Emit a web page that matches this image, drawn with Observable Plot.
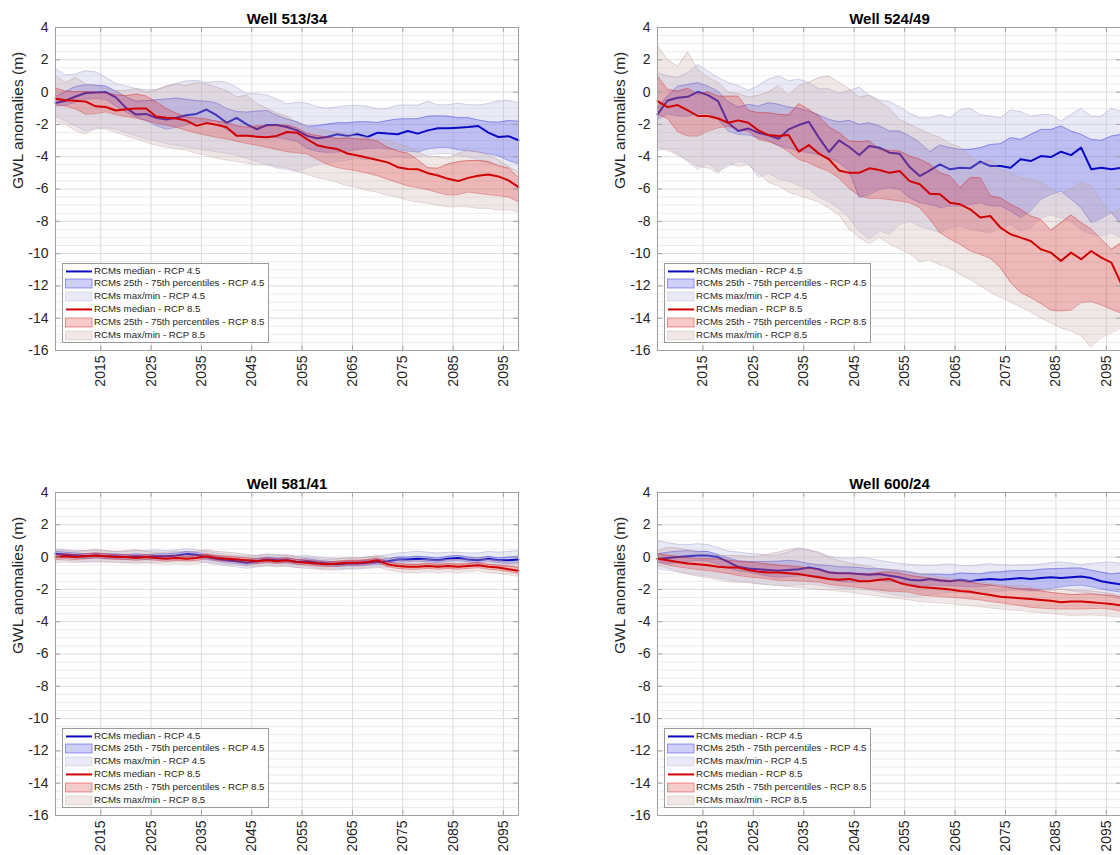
<!DOCTYPE html>
<html>
<head>
<meta charset="utf-8">
<script src="https://cdn.jsdelivr.net/npm/d3@7"></script>
<script src="https://cdn.jsdelivr.net/npm/@observablehq/plot@0.6"></script>
<style>
html, body { margin: 0; padding: 0; background: #fff; overflow: hidden; }
#root { position: relative; width: 1120px; height: 855px; overflow: hidden; font-family: "Liberation Sans", Arial, Helvetica, sans-serif; }
.panel { position: absolute; }
.legend { position: absolute; width: 205px; height: 78px; background: #fff; border: 1px solid #9a9a9a; }
.lrow { position: absolute; left: 0; height: 12.9px; width: 100%; }
.lrow svg { position: absolute; left: 1px; top: 0; }
.lrow span { position: absolute; left: 31px; top: 0; font-size: 9.7px; line-height: 12.9px; color: #262626; white-space: nowrap; }
</style>
</head>
<body>
<div id="root"></div>
<script>
// ---------------- DATA ----------------
const years = [2006,2008,2010,2012,2014,2016,2018,2020,2022,2024,2026,2028,2030,2032,2034,2036,2038,2040,2042,2044,2046,2048,2050,2052,2054,2056,2058,2060,2062,2064,2066,2068,2070,2072,2074,2076,2078,2080,2082,2084,2086,2088,2090,2092,2094,2096,2098];
const xTicks = [2015,2025,2035,2045,2055,2065,2075,2085,2095];
const yTicks = [-16,-14,-12,-10,-8,-6,-4,-2,0,2,4];
const wellTitles = ["Well 513/34","Well 524/49","Well 581/41","Well 600/24"];
const yLabel = "GWL anomalies (m)";
const legendLabels = ["RCMs median - RCP 4.5","RCMs 25th - 75th percentiles - RCP 4.5","RCMs max/min - RCP 4.5","RCMs median - RCP 8.5","RCMs 25th - 75th percentiles - RCP 8.5","RCMs max/min - RCP 8.5"];

// Well 513/34
const w1_b_med = [-0.67,-0.53,-0.27,-0.06,-0.02,0,-0.33,-0.98,-1.39,-1.35,-1.59,-1.69,-1.59,-1.43,-1.35,-1.08,-1.43,-1.9,-1.6,-2.0,-2.3,-2.04,-2.04,-2.16,-2.37,-2.71,-2.86,-2.78,-2.61,-2.71,-2.61,-2.78,-2.51,-2.57,-2.61,-2.41,-2.57,-2.37,-2.24,-2.24,-2.2,-2.16,-2.1,-2.51,-2.78,-2.73,-2.98];
const w1_b_p75 = [-0.27,0.04,0.35,0.45,0.43,0.37,0.06,-0.29,-0.57,-0.53,-0.47,-0.43,-0.37,-0.45,-0.53,-0.57,-0.67,-1.02,-1.2,-1.24,-1.18,-1.14,-1.43,-1.67,-1.84,-2.12,-2.08,-1.98,-1.9,-1.9,-1.84,-1.84,-1.88,-1.76,-1.67,-1.65,-1.65,-1.49,-1.47,-1.49,-1.59,-1.59,-1.73,-1.84,-1.86,-1.76,-1.8];
const w1_b_p25 = [-0.88,-0.8,-0.63,-0.43,-0.39,-0.45,-0.86,-1.24,-1.55,-1.76,-2.08,-2.29,-2.18,-2.02,-1.88,-1.8,-1.8,-2.35,-2.55,-2.63,-2.71,-2.8,-2.82,-2.9,-3.06,-3.49,-3.67,-3.73,-3.71,-3.65,-3.55,-3.49,-3.45,-3.51,-3.57,-3.65,-3.71,-3.51,-3.43,-3.43,-3.57,-3.63,-3.71,-3.82,-3.94,-4.24,-4.45];
const w1_b_max = [1.45,1.06,1.12,1.33,1.24,0.92,0.53,0.37,0.22,0.14,0.16,0.31,0.53,0.69,0.73,0.59,0.67,0.61,0.29,-0.1,-0.1,-0.18,-0.43,-0.73,-0.63,-0.69,-0.9,-1.0,-0.92,-0.84,-0.82,-0.88,-1.04,-1.02,-0.82,-0.8,-0.82,-0.57,-0.8,-0.78,-0.69,-0.78,-0.8,-0.71,-0.55,-0.53,-0.67];
const w1_b_min = [-1.5,-1.8,-2.1,-2.4,-2.3,-2.2,-2.3,-2.5,-2.7,-2.9,-3.0,-3.2,-3.3,-3.4,-3.5,-3.6,-3.7,-3.8,-3.9,-4.1,-4.3,-4.5,-4.7,-4.8,-4.9,-4.7,-4.5,-4.4,-4.3,-4.2,-4.1,-4.2,-4.0,-4.1,-4.0,-4.1,-4.0,-3.9,-3.8,-3.8,-3.9,-4.0,-4.2,-4.4,-4.5,-4.7,-4.9];
const w1_r_med = [-0.41,-0.51,-0.53,-0.59,-0.88,-0.92,-1.14,-1.06,-1.02,-1.02,-1.51,-1.59,-1.63,-1.76,-2.08,-1.92,-2.02,-2.18,-2.71,-2.71,-2.76,-2.8,-2.71,-2.47,-2.51,-2.92,-3.29,-3.43,-3.53,-3.8,-3.92,-4.06,-4.2,-4.35,-4.65,-4.76,-4.78,-5.02,-5.16,-5.37,-5.51,-5.31,-5.18,-5.1,-5.22,-5.47,-5.88];
const w1_r_p75 = [0.24,0.06,0.02,0.04,0,-0.04,-0.16,-0.22,-0.12,-0.24,-0.61,-1.02,-1.31,-1.55,-1.61,-1.67,-1.8,-1.88,-2.08,-2.18,-2.1,-2.1,-2.06,-2.04,-2.22,-2.57,-2.69,-2.78,-2.88,-2.84,-2.9,-2.92,-3.04,-3.41,-3.65,-3.78,-4.2,-4.69,-4.71,-4.45,-4.31,-4.24,-4.24,-4.29,-4.57,-4.71,-5.27];
const w1_r_p25 = [-0.78,-0.86,-1.04,-1.37,-1.33,-1.22,-1.39,-1.51,-1.61,-1.76,-1.92,-2.04,-2.18,-2.37,-2.53,-2.67,-2.8,-2.9,-3.04,-3.18,-3.29,-3.41,-3.55,-3.69,-3.76,-3.82,-4.16,-4.47,-4.67,-4.78,-4.88,-5.02,-5.18,-5.39,-5.61,-5.8,-5.92,-6.04,-6.22,-6.37,-6.35,-6.18,-6.27,-6.35,-6.41,-6.49,-6.8];
const w1_r_max = [1.0,0.6,0.9,0.5,0.4,0.2,0.1,0.1,0.2,0.0,0.1,0.4,0.5,0.4,0.6,0.5,0.3,0.1,-0.3,-0.2,-0.7,-1.0,-1.3,-1.5,-1.9,-2.1,-2.3,-2.4,-2.5,-2.6,-2.7,-2.8,-2.9,-3.0,-3.2,-3.4,-3.7,-4.0,-4.0,-4.1,-3.8,-3.6,-3.7,-3.9,-4.2,-4.6,-5.0];
const w1_r_min = [-1.8,-2.0,-2.4,-2.6,-2.2,-2.3,-2.5,-2.7,-2.9,-3.1,-3.3,-3.4,-3.5,-3.6,-3.8,-3.9,-4.1,-4.2,-4.3,-4.4,-4.5,-4.5,-4.6,-4.7,-4.9,-5.1,-5.3,-5.4,-5.6,-5.8,-5.9,-6.1,-6.2,-6.4,-6.5,-6.7,-6.8,-6.9,-7.0,-7.1,-7.1,-7.1,-7.2,-7.2,-7.3,-7.3,-7.4];

// Well 524/49
const w2_b_med = [-1.38,-0.52,-0.35,-0.29,0.02,-0.19,-0.56,-1.9,-2.41,-2.25,-2.52,-2.68,-2.89,-2.31,-2.04,-1.84,-2.82,-3.71,-2.99,-3.4,-3.9,-3.34,-3.44,-3.75,-3.81,-4.64,-5.2,-4.85,-4.47,-4.78,-4.68,-4.72,-4.31,-4.58,-4.58,-4.68,-4.16,-4.27,-3.96,-4.02,-3.69,-3.9,-3.44,-4.78,-4.68,-4.78,-4.68];
const w2_b_p75 = [-0.97,-0.25,0.37,0.47,0.58,0.37,0.06,-0.6,-0.93,-0.76,-0.87,-0.66,-0.76,-0.93,-1.01,-1.18,-1.42,-1.69,-1.84,-1.75,-2.0,-1.9,-2.1,-2.41,-2.41,-2.72,-3.13,-3.69,-3.28,-3.44,-3.55,-3.55,-3.44,-3.24,-3.2,-2.82,-2.93,-2.62,-2.31,-2.31,-2.1,-2.41,-2.62,-2.93,-2.99,-2.72,-2.62];
const w2_b_p25 = [-1.69,-1.34,-1.48,-1.48,-1.34,-1.28,-1.69,-2.41,-2.62,-2.66,-2.82,-2.99,-3.34,-3.44,-3.65,-3.75,-3.86,-4.06,-4.37,-4.89,-6.54,-6.33,-6.02,-5.92,-6.02,-6.54,-6.85,-6.95,-7.15,-7.05,-7.05,-6.95,-6.85,-7.05,-7.05,-7.36,-7.77,-7.36,-6.64,-6.33,-6.12,-6.64,-7.15,-8.08,-7.81,-7.46,-8.19];
const w2_b_max = [1.2,1.0,0.9,1.2,1.7,1.3,0.9,0.6,0.4,0.1,0.4,0.8,1.0,0.7,0.8,0.6,0.2,0.2,-0.1,0.1,0.3,-0.2,-0.5,-0.6,-0.9,-1.3,-1.6,-1.6,-1.4,-1.6,-1.1,-1.0,-1.4,-1.5,-1.6,-1.1,-1.2,-1.5,-1.4,-1.4,-1.8,-1.4,-1.0,-1.5,-1.5,-1.0,-1.2];
const w2_b_min = [-3.6,-3.5,-3.8,-4.3,-4.8,-4.4,-4.9,-4.6,-4.3,-4.4,-5.3,-5.0,-5.4,-5.5,-5.8,-6.0,-6.5,-6.8,-7.2,-7.8,-8.6,-9.1,-8.6,-8.8,-8.2,-8.0,-8.3,-8.5,-8.7,-8.4,-8.3,-8.5,-8.6,-8.7,-8.4,-8.2,-8.6,-8.4,-7.8,-7.6,-7.8,-8.0,-8.5,-8.8,-8.9,-8.7,-9.0];
const w2_r_med = [-0.56,-0.93,-0.8,-1.13,-1.48,-1.48,-1.63,-1.9,-1.75,-1.9,-2.37,-2.66,-2.72,-2.66,-3.69,-3.28,-3.81,-4.16,-4.85,-5.0,-5.0,-4.72,-4.82,-5.0,-4.89,-5.51,-5.71,-6.29,-6.33,-6.85,-6.95,-7.26,-7.77,-7.67,-8.39,-8.8,-9.01,-9.22,-9.73,-9.94,-10.45,-9.94,-10.35,-9.84,-10.25,-10.56,-11.9];
const w2_r_p75 = [0.99,0.16,0.06,0.23,-0.14,0.02,-0.25,-0.25,-0.25,-1.13,-1.28,-1.28,-1.38,-1.42,-0.72,-1.07,-1.48,-2.16,-2.52,-3.03,-3.07,-3.03,-3.55,-3.61,-3.65,-3.96,-4.16,-4.47,-4.99,-5.2,-5.92,-5.3,-5.3,-6.43,-6.54,-6.95,-7.26,-7.67,-7.88,-8.56,-8.08,-7.61,-8.08,-8.49,-9.11,-9.73,-9.32];
const w2_r_p25 = [-1.38,-1.63,-2.45,-2.72,-2.72,-2.41,-2.21,-2.12,-2.31,-2.41,-2.93,-3.07,-3.28,-3.69,-4.16,-4.37,-4.68,-4.89,-5.34,-5.96,-6.43,-6.58,-6.58,-6.66,-6.74,-6.85,-7.15,-7.88,-8.7,-9.11,-9.42,-9.84,-10.04,-10.29,-10.87,-11.79,-12.41,-12.72,-13.09,-13.5,-13.55,-13.5,-13.03,-12.97,-13.18,-13.44,-13.71];
const w2_r_max = [2.9,2.0,1.6,2.5,1.4,0.9,0.6,0.0,-0.1,-0.3,-0.2,0.0,0.4,-0.2,0.4,0.6,0.9,1.0,0.6,0.2,-0.3,-0.2,-0.6,-1.0,-1.7,-2.0,-2.3,-2.6,-2.8,-3.2,-3.4,-4.0,-4.4,-4.2,-4.8,-5.0,-5.3,-5.4,-5.6,-6.0,-6.3,-6.0,-5.6,-5.8,-6.8,-7.5,-7.2];
const w2_r_min = [-3.4,-3.6,-3.9,-4.2,-4.6,-4.7,-5.0,-4.4,-4.6,-4.5,-5.0,-5.6,-5.8,-6.2,-6.4,-6.6,-6.8,-7.2,-7.6,-8.5,-9.0,-9.4,-9.0,-9.4,-9.7,-10.0,-10.5,-10.4,-10.7,-10.9,-11.3,-11.6,-12.0,-12.4,-12.7,-13.0,-13.3,-13.6,-14.0,-14.3,-14.6,-14.8,-15.1,-15.8,-15.2,-14.9,-14.6];

// Well 581/41
const w3_b_med = [0.2,0.15,0.1,0.05,0.1,0.05,0.05,0.0,0.05,0.0,0.05,0.05,0.1,0.2,0.15,0.0,-0.1,-0.2,-0.25,-0.35,-0.25,-0.15,-0.2,-0.2,-0.3,-0.25,-0.35,-0.4,-0.45,-0.4,-0.4,-0.35,-0.3,-0.25,-0.15,-0.15,-0.1,-0.15,-0.2,-0.1,-0.05,-0.15,-0.2,-0.1,-0.2,-0.2,-0.15];
const w3_b_p75 = [0.35,0.3,0.25,0.2,0.25,0.2,0.2,0.15,0.2,0.15,0.2,0.2,0.25,0.35,0.3,0.15,0.05,-0.05,-0.1,-0.2,-0.1,0.0,-0.05,-0.05,-0.15,-0.1,-0.2,-0.25,-0.3,-0.25,-0.25,-0.2,-0.15,-0.1,0.0,0.0,0.05,0.0,-0.05,0.05,0.1,0.0,-0.05,0.05,-0.05,0.0,0.05];
const w3_b_p25 = [0.05,0.0,-0.05,-0.1,-0.05,-0.1,-0.1,-0.15,-0.1,-0.15,-0.1,-0.1,-0.05,0.05,0.0,-0.15,-0.25,-0.35,-0.4,-0.5,-0.4,-0.3,-0.35,-0.35,-0.45,-0.4,-0.5,-0.55,-0.6,-0.55,-0.55,-0.5,-0.45,-0.4,-0.3,-0.3,-0.25,-0.3,-0.35,-0.25,-0.2,-0.3,-0.35,-0.25,-0.35,-0.4,-0.35];
const w3_b_max = [0.5,0.45,0.4,0.4,0.45,0.4,0.35,0.35,0.4,0.4,0.45,0.4,0.45,0.5,0.45,0.35,0.25,0.15,0.1,0.05,0.1,0.2,0.15,0.15,0.05,0.1,0.0,-0.05,-0.1,-0.05,-0.05,0.0,0.05,0.15,0.25,0.3,0.35,0.3,0.25,0.3,0.3,0.25,0.25,0.35,0.3,0.35,0.4];
const w3_b_min = [-0.15,-0.2,-0.25,-0.3,-0.3,-0.3,-0.3,-0.35,-0.3,-0.35,-0.3,-0.3,-0.25,-0.2,-0.25,-0.35,-0.45,-0.55,-0.6,-0.7,-0.6,-0.5,-0.55,-0.55,-0.65,-0.6,-0.7,-0.75,-0.8,-0.75,-0.75,-0.7,-0.65,-0.6,-0.5,-0.5,-0.45,-0.5,-0.55,-0.45,-0.4,-0.5,-0.55,-0.45,-0.55,-0.6,-0.55];
const w3_r_med = [0.0,0.05,0.0,0.05,0.1,0.05,0.0,0.0,-0.05,0.0,-0.05,-0.1,-0.05,-0.1,-0.05,0.05,-0.05,-0.1,-0.15,-0.2,-0.25,-0.2,-0.25,-0.2,-0.3,-0.35,-0.4,-0.45,-0.4,-0.35,-0.35,-0.3,-0.2,-0.45,-0.55,-0.6,-0.6,-0.55,-0.6,-0.55,-0.6,-0.55,-0.5,-0.6,-0.65,-0.75,-0.85];
const w3_r_p75 = [0.15,0.2,0.15,0.2,0.25,0.2,0.15,0.15,0.1,0.15,0.1,0.05,0.1,0.05,0.1,0.2,0.1,0.05,0.0,-0.05,-0.1,-0.05,-0.1,-0.05,-0.15,-0.2,-0.25,-0.3,-0.25,-0.2,-0.2,-0.15,-0.05,-0.3,-0.4,-0.45,-0.45,-0.4,-0.45,-0.4,-0.45,-0.4,-0.35,-0.45,-0.5,-0.55,-0.65];
const w3_r_p25 = [-0.15,-0.1,-0.15,-0.1,-0.05,-0.1,-0.15,-0.15,-0.2,-0.15,-0.2,-0.25,-0.2,-0.25,-0.2,-0.1,-0.2,-0.25,-0.3,-0.35,-0.4,-0.35,-0.4,-0.35,-0.45,-0.5,-0.55,-0.6,-0.55,-0.5,-0.5,-0.45,-0.35,-0.6,-0.7,-0.75,-0.75,-0.7,-0.75,-0.7,-0.75,-0.7,-0.65,-0.75,-0.8,-0.9,-1.0];
const w3_r_max = [0.4,0.4,0.35,0.4,0.45,0.4,0.35,0.4,0.45,0.35,0.3,0.3,0.35,0.3,0.35,0.45,0.35,0.3,0.25,0.15,0.1,0.15,0.1,0.1,0.0,-0.05,-0.1,-0.15,-0.1,-0.05,-0.05,0.0,0.1,-0.05,-0.15,-0.2,-0.2,-0.15,-0.2,-0.15,-0.15,-0.1,-0.05,-0.15,-0.2,-0.3,-0.35];
const w3_r_min = [-0.35,-0.3,-0.35,-0.3,-0.25,-0.3,-0.35,-0.35,-0.4,-0.35,-0.4,-0.45,-0.4,-0.45,-0.4,-0.3,-0.4,-0.45,-0.5,-0.55,-0.6,-0.55,-0.6,-0.55,-0.65,-0.7,-0.75,-0.8,-0.75,-0.7,-0.7,-0.65,-0.6,-0.8,-0.9,-0.95,-0.95,-0.9,-0.95,-0.9,-0.95,-0.9,-0.85,-0.95,-1.0,-1.1,-1.2];

// Well 600/24
const w4_b_med = [-0.1,-0.05,0.0,0.05,0.1,0.1,0.0,-0.3,-0.6,-0.7,-0.75,-0.8,-0.85,-0.8,-0.75,-0.65,-0.75,-0.95,-1.0,-1.0,-1.05,-1.1,-1.05,-1.15,-1.25,-1.4,-1.45,-1.35,-1.45,-1.5,-1.4,-1.5,-1.4,-1.35,-1.4,-1.35,-1.3,-1.35,-1.3,-1.25,-1.3,-1.25,-1.2,-1.3,-1.5,-1.6,-1.7];
const w4_b_p75 = [0.2,0.3,0.37,0.4,0.35,0.35,0.15,-0.05,-0.23,-0.27,-0.27,-0.27,-0.25,-0.2,-0.27,-0.4,-0.48,-0.52,-0.6,-0.62,-0.64,-0.72,-0.72,-0.79,-0.85,-0.93,-1.06,-1.06,-1.06,-1.1,-0.99,-1.01,-1.04,-0.93,-0.91,-0.85,-0.83,-0.83,-0.75,-0.72,-0.7,-0.68,-0.68,-0.81,-0.93,-1.04,-0.97];
const w4_b_p25 = [-0.31,-0.39,-0.35,-0.27,-0.21,-0.25,-0.43,-0.68,-0.85,-0.93,-1.06,-1.18,-1.24,-1.2,-1.16,-1.12,-1.16,-1.35,-1.51,-1.55,-1.53,-1.45,-1.45,-1.51,-1.57,-1.66,-1.74,-1.74,-1.74,-1.76,-1.8,-1.84,-1.84,-1.76,-1.72,-1.9,-1.97,-2.07,-2.01,-1.93,-1.84,-1.76,-1.74,-1.84,-1.97,-2.09,-2.17];
const w4_b_max = [1.04,0.89,0.79,0.77,0.83,0.77,0.6,0.37,0.31,0.23,0.19,0.1,0.14,0.31,0.52,0.43,0.31,0.06,-0.04,-0.08,-0.02,-0.08,-0.21,-0.31,-0.39,-0.46,-0.5,-0.52,-0.48,-0.43,-0.52,-0.54,-0.48,-0.41,-0.48,-0.5,-0.48,-0.48,-0.43,-0.35,-0.31,-0.39,-0.46,-0.39,-0.33,-0.31,-0.41];
const w4_b_min = [-0.72,-0.81,-0.91,-0.99,-1.1,-1.18,-1.28,-1.41,-1.49,-1.55,-1.66,-1.72,-1.76,-1.76,-1.72,-1.68,-1.74,-1.84,-1.93,-1.97,-1.97,-2.05,-2.15,-2.28,-2.38,-2.46,-2.42,-2.34,-2.26,-2.17,-2.17,-2.24,-2.26,-2.17,-2.11,-2.07,-2.07,-2.11,-2.09,-2.03,-1.97,-2.09,-2.17,-2.26,-2.34,-2.44,-2.59];
const w4_r_med = [-0.1,-0.2,-0.3,-0.4,-0.45,-0.5,-0.6,-0.65,-0.65,-0.8,-0.9,-0.95,-0.95,-1.0,-1.05,-1.15,-1.25,-1.35,-1.4,-1.35,-1.5,-1.5,-1.4,-1.35,-1.6,-1.75,-1.85,-1.9,-1.95,-2.0,-2.1,-2.15,-2.25,-2.35,-2.45,-2.5,-2.55,-2.6,-2.65,-2.7,-2.8,-2.75,-2.75,-2.8,-2.85,-2.9,-3.0];
const w4_r_p75 = [0.2,0.12,0.04,-0.04,-0.1,-0.1,-0.12,-0.19,-0.27,-0.31,-0.37,-0.43,-0.5,-0.54,-0.6,-0.68,-0.77,-0.91,-0.97,-0.99,-1.04,-1.04,-0.95,-0.91,-0.99,-1.14,-1.22,-1.3,-1.39,-1.45,-1.49,-1.57,-1.66,-1.72,-1.82,-1.9,-1.97,-1.97,-2.09,-2.19,-2.26,-2.32,-2.3,-2.28,-2.34,-2.36,-2.48];
const w4_r_p25 = [-0.31,-0.48,-0.6,-0.68,-0.77,-0.83,-0.91,-1.01,-1.14,-1.22,-1.28,-1.35,-1.43,-1.45,-1.47,-1.51,-1.55,-1.68,-1.76,-1.82,-1.88,-1.97,-2.05,-2.11,-2.13,-2.17,-2.32,-2.4,-2.44,-2.48,-2.53,-2.59,-2.65,-2.75,-2.82,-2.92,-3.0,-3.11,-3.15,-3.19,-3.21,-3.21,-3.21,-3.19,-3.17,-3.23,-3.37];
const w4_r_max = [0.41,0.6,0.56,0.46,0.31,0.14,0.1,0.1,0.1,0.04,0.06,0.19,0.31,0.46,0.56,0.46,0.23,-0.02,-0.21,-0.37,-0.48,-0.58,-0.72,-0.75,-0.81,-0.89,-1.04,-1.14,-1.22,-1.3,-1.39,-1.45,-1.53,-1.64,-1.72,-1.76,-1.76,-1.86,-1.99,-2.03,-1.99,-2.05,-2.07,-2.11,-2.17,-2.26,-2.38];
const w4_r_min = [-0.52,-0.68,-0.89,-1.06,-1.18,-1.28,-1.41,-1.51,-1.57,-1.59,-1.64,-1.7,-1.76,-1.82,-1.88,-1.93,-1.99,-2.05,-2.11,-2.17,-2.26,-2.34,-2.42,-2.51,-2.57,-2.65,-2.75,-2.8,-2.84,-2.88,-2.94,-3.0,-3.08,-3.15,-3.21,-3.27,-3.31,-3.4,-3.44,-3.48,-3.56,-3.62,-3.6,-3.58,-3.62,-3.66,-3.73];

// ---------------- STYLE ----------------
const FONT = '"Liberation Sans", Arial, Helvetica, sans-serif';
const C = {
  bMM: "#bcbde0", bMMo: 0.32, bMMe: "#a4a4cc",
  bB: "#2424e6", bBo: 0.22, bBe: "#3434d4",
  bL: "#0a0ac4",
  rMM: "#c8a9a9", rMMo: 0.28, rMMe: "#bc9c9c",
  rB: "#e01010", rBo: 0.22, rBe: "#d02424",
  rL: "#d20000",
  gridMajor: "#dcdcdc", gridMinor: "#ececec", frame: "#a0a0a0", text: "#262626"
};

const panels = [
  {title: wellTitles[0], left: 0,   top: 0,   width: 560, ml: 55, mr: 42,
   bMed: w1_b_med, bP75: w1_b_p75, bP25: w1_b_p25, bMax: w1_b_max, bMin: w1_b_min,
   rMed: w1_r_med, rP75: w1_r_p75, rP25: w1_r_p25, rMax: w1_r_max, rMin: w1_r_min},
  {title: wellTitles[1], left: 560, top: 0,   width: 564, ml: 97, mr: 3,
   bMed: w2_b_med, bP75: w2_b_p75, bP25: w2_b_p25, bMax: w2_b_max, bMin: w2_b_min,
   rMed: w2_r_med, rP75: w2_r_p75, rP25: w2_r_p25, rMax: w2_r_max, rMin: w2_r_min},
  {title: wellTitles[2], left: 0,   top: 465, width: 560, ml: 55, mr: 42,
   bMed: w3_b_med, bP75: w3_b_p75, bP25: w3_b_p25, bMax: w3_b_max, bMin: w3_b_min,
   rMed: w3_r_med, rP75: w3_r_p75, rP25: w3_r_p25, rMax: w3_r_max, rMin: w3_r_min},
  {title: wellTitles[3], left: 560, top: 465, width: 564, ml: 97, mr: 3,
   bMed: w4_b_med, bP75: w4_b_p75, bP25: w4_b_p25, bMax: w4_b_max, bMin: w4_b_min,
   rMed: w4_r_med, rP75: w4_r_p75, rP25: w4_r_p25, rMax: w4_r_max, rMin: w4_r_min}
];

const PH = 420, MT = 27, MB = 70;

function band(rows, lo, hi, fill, op, edge) {
  return [
    Plot.areaY(rows, {x: "year", y1: lo, y2: hi, fill, fillOpacity: op}),
    Plot.lineY(rows, {x: "year", y: hi, stroke: edge, strokeWidth: 0.7, strokeOpacity: 0.6}),
    Plot.lineY(rows, {x: "year", y: lo, stroke: edge, strokeWidth: 0.7, strokeOpacity: 0.6})
  ];
}

function makePanel(p) {
  const rows = years.map((year, i) => ({
    year,
    bMed: p.bMed[i], bP75: p.bP75[i], bP25: p.bP25[i], bMax: p.bMax[i], bMin: p.bMin[i],
    rMed: p.rMed[i], rP75: p.rP75[i], rP25: p.rP25[i], rMax: p.rMax[i], rMin: p.rMin[i]
  }));
  const minor = d3.range(-16, 4.001, 0.5).filter(v => Math.abs(v % 2) > 1e-9);
  const [x0, x1] = [years[0], years[years.length - 1]];
  const yDom = [yTicks[0], yTicks[yTicks.length - 1]];
  const svg = Plot.plot({
    width: p.width, height: PH,
    marginLeft: p.ml, marginRight: p.mr, marginTop: MT, marginBottom: MB,
    style: {fontFamily: FONT, fontSize: "14px", background: "transparent", overflow: "visible"},
    x: {domain: [x0, x1]},
    y: {domain: yDom},
    marks: [
      Plot.gridY(minor, {stroke: C.gridMinor, strokeOpacity: 1}),
      Plot.gridY(yTicks, {stroke: C.gridMajor, strokeOpacity: 1}),
      Plot.gridX(xTicks, {stroke: C.gridMajor, strokeOpacity: 1}),
      ...band(rows, "bMin", "bMax", C.bMM, C.bMMo, C.bMMe),
      ...band(rows, "bP25", "bP75", C.bB, C.bBo, C.bBe),
      Plot.lineY(rows, {x: "year", y: "bMed", stroke: C.bL, strokeWidth: 2}),
      ...band(rows, "rMin", "rMax", C.rMM, C.rMMo, C.rMMe),
      ...band(rows, "rP25", "rP75", C.rB, C.rBo, C.rBe),
      Plot.lineY(rows, {x: "year", y: "rMed", stroke: C.rL, strokeWidth: 2}),
      Plot.frame({stroke: C.frame}),
      // inward tick marks on all four sides
      Plot.ruleX(xTicks, {x: d => d, y1: yDom[0], y2: yDom[0] + 0.3, stroke: C.frame}),
      Plot.ruleX(xTicks, {x: d => d, y1: yDom[1], y2: yDom[1] - 0.3, stroke: C.frame}),
      Plot.ruleY(yTicks, {y: d => d, x1: x0, x2: x0 + 1, stroke: C.frame}),
      Plot.ruleY(yTicks, {y: d => d, x1: x1, x2: x1 - 1, stroke: C.frame}),
      Plot.axisX(xTicks, {anchor: "bottom", tickSize: 0, tickPadding: 5, tickRotate: -90,
        tickFormat: d => String(d), label: null, fill: C.text, fontSize: 14}),
      Plot.axisY(yTicks, {anchor: "left", tickSize: 0, tickPadding: 7,
        tickFormat: d => String(d), label: null, fill: C.text, fontSize: 14}),
      Plot.text([yLabel], {frameAnchor: "left", rotate: -90, dx: -37, fontSize: 15.5, fill: C.text}),
      Plot.text([p.title], {frameAnchor: "top", dy: -14, fontSize: 15, fontWeight: "bold", fill: "#000"})
    ]
  });
  svg.classList.add("panel");
  svg.style.left = p.left + "px";
  svg.style.top = p.top + "px";
  return svg;
}

function makeLegend(left, top) {
  const div = document.createElement("div");
  div.className = "legend";
  div.style.left = left + "px";
  div.style.top = top + "px";
  const sw = [
    `<line x1="2" x2="28" y1="6.45" y2="6.45" stroke="${C.bL}" stroke-width="2"/>`,
    `<rect x="1.5" y="2" width="26.5" height="9" fill="${C.bB}" fill-opacity="${C.bBo}" stroke="${C.bBe}" stroke-opacity="0.6" stroke-width="0.8"/>`,
    `<rect x="1.5" y="2" width="26.5" height="9" fill="${C.bMM}" fill-opacity="${C.bMMo}" stroke="${C.bMMe}" stroke-opacity="0.5" stroke-width="0.6"/>`,
    `<line x1="2" x2="28" y1="6.45" y2="6.45" stroke="${C.rL}" stroke-width="2"/>`,
    `<rect x="1.5" y="2" width="26.5" height="9" fill="${C.rB}" fill-opacity="${C.rBo}" stroke="${C.rBe}" stroke-opacity="0.6" stroke-width="0.8"/>`,
    `<rect x="1.5" y="2" width="26.5" height="9" fill="${C.rMM}" fill-opacity="${C.rMMo}" stroke="${C.rMMe}" stroke-opacity="0.5" stroke-width="0.6"/>`
  ];
  legendLabels.forEach((lab, i) => {
    const row = document.createElement("div");
    row.className = "lrow";
    row.style.top = (0.5 + i * 12.9) + "px";
    row.innerHTML = `<svg width="30" height="13">${sw[i]}</svg><span></span>`;
    row.querySelector("span").textContent = lab;
    div.appendChild(row);
  });
  return div;
}

const root = document.getElementById("root");
panels.forEach(p => {
  root.appendChild(makePanel(p));
  const frameLeft = p.left + p.ml;
  const frameBottom = p.top + PH - MB;
  root.appendChild(makeLegend(frameLeft + 7, frameBottom - 7 - 80));
});
</script>
</body>
</html>
